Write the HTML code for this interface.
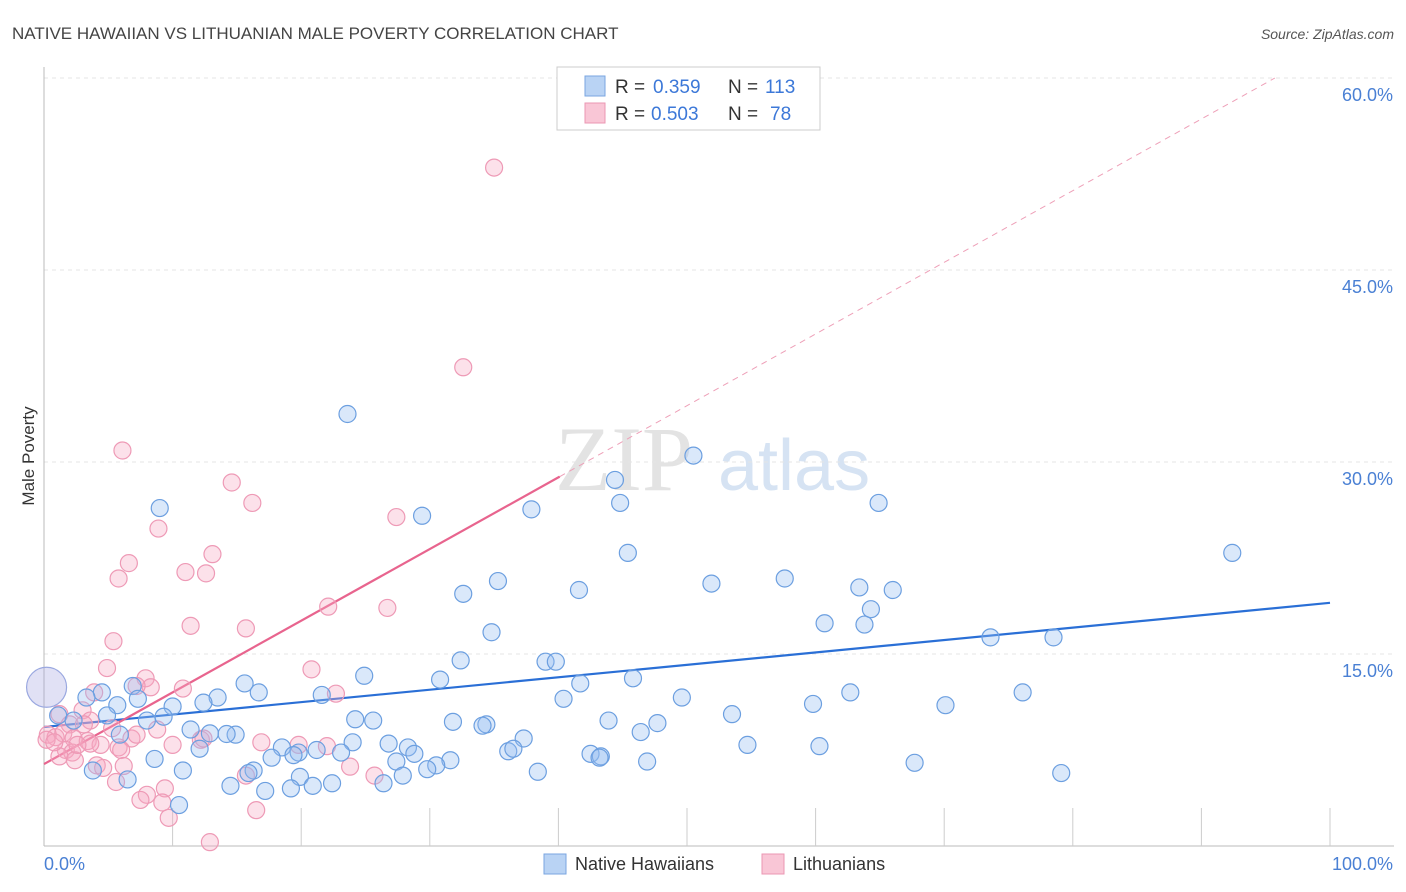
<!DOCTYPE html>
<html><head><meta charset="utf-8">
<style>
body{margin:0;background:#fff;font-family:"Liberation Sans",sans-serif;}
svg{display:block}
</style></head>
<body>
<svg id="chart" width="1406" height="892" viewBox="0 0 1406 892" xmlns="http://www.w3.org/2000/svg">
<text x="12" y="39" font-size="17" fill="#444" font-family="Liberation Sans,sans-serif">NATIVE HAWAIIAN VS LITHUANIAN MALE POVERTY CORRELATION CHART</text>
<text x="1394" y="39" font-size="14" fill="#555" font-style="italic" text-anchor="end">Source: ZipAtlas.com</text>
<g>
<text x="555" y="490" font-size="92" fill="#e3e3e3" font-family="Liberation Serif,serif">ZIP</text>
<text x="718" y="490" font-size="72" fill="#d6e3f3">atlas</text>
</g>
<g id="grid"></g>
<g id="axes"></g>
<g id="trends"></g>
<g id="points"></g>
<text transform="translate(34,456) rotate(-90)" font-size="17" fill="#333" text-anchor="middle">Male Poverty</text>
<g>
<rect x="557" y="67" width="263" height="63" fill="#fff" stroke="#ccc"/>
<rect x="585" y="76" width="20" height="20" fill="#b9d3f4" stroke="#7aa6e0"/>
<rect x="585" y="103" width="20" height="20" fill="#f9c6d6" stroke="#eb97b3"/>
<text x="615" y="93" font-size="19" fill="#333">R =</text>
<text x="653" y="93" font-size="19" fill="#3c78d8">0.359</text>
<text x="728" y="93" font-size="19" fill="#333">N =</text>
<text x="765" y="93" font-size="19" fill="#3c78d8">113</text>
<text x="615" y="120" font-size="19" fill="#333">R =</text>
<text x="651" y="120" font-size="19" fill="#3c78d8">0.503</text>
<text x="728" y="120" font-size="19" fill="#333">N =</text>
<text x="770" y="120" font-size="19" fill="#3c78d8">78</text>
</g>
<g>
<rect x="544" y="854" width="22" height="20" fill="#b9d3f4" stroke="#7aa6e0"/>
<text x="575" y="870" font-size="18" fill="#333">Native Hawaiians</text>
<rect x="762" y="854" width="22" height="20" fill="#f9c6d6" stroke="#eb97b3"/>
<text x="793" y="870" font-size="18" fill="#333">Lithuanians</text>
</g>
</svg>
<script>
const yTicks=[15,30,45,60];
const yTickLabels=["15.0%","30.0%","45.0%","60.0%"];
const xLabels=["0.0%","100.0%"];
const blueTrend=[9.3,19.0];
const pinkIntercept=6.4, pinkSlope=0.56, pinkSolidEnd=40.1;
const blueX=[23.6,50.5,44.4,44.8,64.9,37.9,29.4,9.0,92.4,45.4,35.3,51.9,57.6,32.6,41.6,63.4,66.0,64.3,60.7,63.8,34.8,73.6,78.5,32.4,39.0,39.8,24.9,30.8,41.7,45.8,15.6,16.7,21.6,6.9,4.5,3.3,7.3,13.5,12.4,10.0,5.7,40.4,49.6,62.7,76.1,59.8,70.1,53.5,4.9,1.1,2.3,24.2,25.6,31.8,34.4,34.1,43.9,47.7,46.4,9.3,8.0,11.4,12.9,14.9,5.9,14.2,37.3,26.8,24.0,54.7,60.3,18.5,28.3,12.1,19.8,21.2,23.1,19.4,28.8,36.1,36.5,42.5,43.3,43.2,17.7,27.4,31.6,46.9,30.5,29.8,67.7,8.6,10.8,16.3,15.9,19.9,27.9,38.4,79.1,3.8,6.5,14.5,17.2,19.2,20.9,22.4,26.4,10.5];
const blueY=[33.75,30.5,28.6,26.8,26.8,26.3,25.8,26.4,22.9,22.9,20.7,20.5,20.9,19.7,20.0,20.2,20.0,18.5,17.4,17.3,16.7,16.3,16.3,14.5,14.4,14.4,13.3,13.0,12.7,13.1,12.7,12.0,11.8,12.5,12.0,11.6,11.5,11.6,11.2,10.9,11.0,11.5,11.6,12.0,12.0,11.1,11.0,10.3,10.2,10.2,9.8,9.9,9.8,9.7,9.5,9.4,9.8,9.6,8.9,10.1,9.8,9.1,8.8,8.7,8.7,8.75,8.4,8.0,8.1,7.9,7.8,7.7,7.7,7.6,7.3,7.5,7.3,7.1,7.2,7.4,7.6,7.2,7.0,6.9,6.9,6.6,6.7,6.6,6.3,6.0,6.5,6.8,5.9,5.9,5.7,5.4,5.5,5.8,5.7,5.9,5.2,4.7,4.3,4.5,4.7,4.9,4.9,3.2];
const pinkX=[35.0,32.6,6.1,14.6,16.2,27.4,8.9,13.1,6.6,11.0,12.6,5.8,22.1,26.7,11.4,15.7,5.4,4.9,20.8,7.9,3.9,8.3,10.8,7.2,22.7,3.0,1.2,2.0,3.6,3.1,5.3,8.8,0.3,0.9,1.5,2.3,3.4,4.4,6.8,7.2,5.8,10.0,12.2,12.4,16.9,19.8,22.0,1.7,2.2,1.2,6.0,6.2,4.1,4.6,2.4,23.8,25.7,15.7,5.6,9.4,8.0,7.5,9.2,9.7,16.5,12.9,0.2,0.8,3.6,2.6];
const pinkY=[53.0,37.4,30.9,28.4,26.8,25.7,24.8,22.8,22.1,21.4,21.3,20.9,18.7,18.6,17.2,17.0,16.0,13.9,13.8,13.1,12.0,12.4,12.3,12.5,11.9,10.6,10.3,9.5,9.8,9.5,9.2,9.1,8.7,8.5,8.8,8.4,8.2,7.9,8.4,8.7,7.7,7.9,8.3,8.4,8.1,7.9,7.8,7.5,7.3,7.0,7.5,6.25,6.3,6.1,6.7,6.2,5.5,5.5,5.0,4.5,4.0,3.6,3.4,2.2,2.8,0.3,8.3,8.1,8.0,7.9];
const bigX=0.2, bigY=12.4;

const NS="http://www.w3.org/2000/svg";
const X=v=>44+v*12.86;
const Y=v=>846-v*12.8;
function mk(tag,attrs,parent){const e=document.createElementNS(NS,tag);for(const k in attrs)e.setAttribute(k,attrs[k]);document.getElementById(parent).appendChild(e);return e;}

yTicks.forEach((t,i)=>{
  const l=mk('line',{x1:44,x2:1394,y1:Y(t),y2:Y(t),stroke:'#e4e4e4','stroke-dasharray':'4,4'},'grid');
  
  
  const tx=mk('text',{x:1393,y:Y(t)+23,'font-size':18,fill:'#4a80d4','text-anchor':'end'},'grid');
  tx.textContent=yTickLabels[i];
  
  
});
const ya=mk('line',{x1:44,x2:44,y1:67,y2:846,stroke:'#bbb'},'axes');


const xa=mk('line',{x1:44,x2:1394,y1:846,y2:846,stroke:'#bbb'},'axes');


for(let i=1;i<=10;i++){
  const tk=mk('line',{x1:X(i*10),x2:X(i*10),y1:808,y2:846,stroke:'#ccc'},'axes');
  
  
}
const xl0=mk('text',{x:44,y:870,'font-size':18,fill:'#4a80d4'},'axes');xl0.textContent=xLabels[0];


const xl1=mk('text',{x:1393,y:870,'font-size':18,fill:'#4a80d4','text-anchor':'end'},'axes');xl1.textContent=xLabels[1];



const bt=mk('line',{x1:X(0),y1:Y(blueTrend[0]),x2:X(100),y2:Y(blueTrend[1]),stroke:'#2a6fd6','stroke-width':2.2},'trends');


const pEnd=(60-pinkIntercept)/pinkSlope;
const pd=mk('line',{x1:X(pinkSolidEnd),y1:Y(pinkIntercept+pinkSlope*pinkSolidEnd),x2:X(pEnd),y2:Y(60),stroke:'#eea0b8','stroke-width':1,'stroke-dasharray':'6,5'},'trends');


const pt=mk('line',{x1:X(0),y1:Y(pinkIntercept),x2:X(pinkSolidEnd),y2:Y(pinkIntercept+pinkSlope*pinkSolidEnd),stroke:'#e8648e','stroke-width':2.2},'trends');



pinkX.forEach((x,i)=>{
  const c=mk('circle',{cx:X(x),cy:Y(pinkY[i]),r:8.5,fill:'rgba(246,168,196,0.35)',stroke:'#ee9ab6','stroke-width':1.2},'points');
  
  
});
blueX.forEach((x,i)=>{
  const c=mk('circle',{cx:X(x),cy:Y(blueY[i]),r:8.5,fill:'rgba(150,190,240,0.35)',stroke:'#6c9fe0','stroke-width':1.2},'points');
  
  
});
const big=mk('circle',{cx:X(bigX),cy:Y(bigY),r:20,fill:'rgba(170,170,225,0.35)',stroke:'#9aa8e0','stroke-width':1.2},'points');


</script>
</body></html>
